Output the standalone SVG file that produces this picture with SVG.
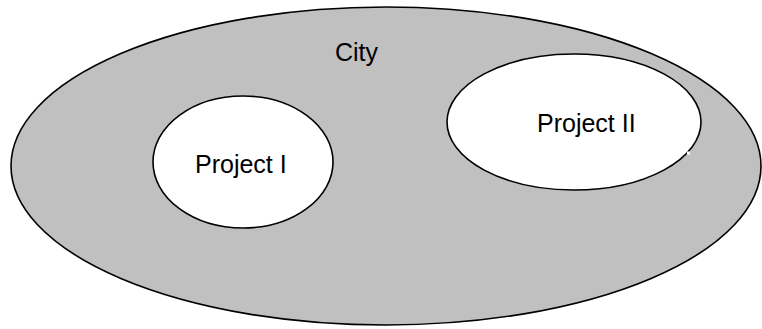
<svg xmlns="http://www.w3.org/2000/svg" width="762" height="329" viewBox="0 0 762 329">
<style>
.shape{stroke:#000;stroke-width:1.6}
.lbl{font-family:"Liberation Sans",Arial,sans-serif;font-size:25px;fill:#000}
</style>
<rect width="762" height="329" fill="#fff"/>
<g id="city">
<ellipse class="shape" cx="386" cy="166" rx="375" ry="159" fill="#c0c0c0"/>
<text class="lbl" x="335" y="61">City</text>
</g>
<g id="project1">
<ellipse class="shape" cx="243" cy="162" rx="90" ry="66" fill="#fff"/>
<text class="lbl" x="195" y="173">Project I</text>
</g>
<g id="project2">
<ellipse class="shape" cx="574" cy="122" rx="127" ry="68" fill="#fff"/>
<rect x="687" y="151.5" width="3" height="3" fill="#fff"/>
<text class="lbl" x="537" y="132">Project II</text>
</g>
<g id="connectors"></g>
</svg>
